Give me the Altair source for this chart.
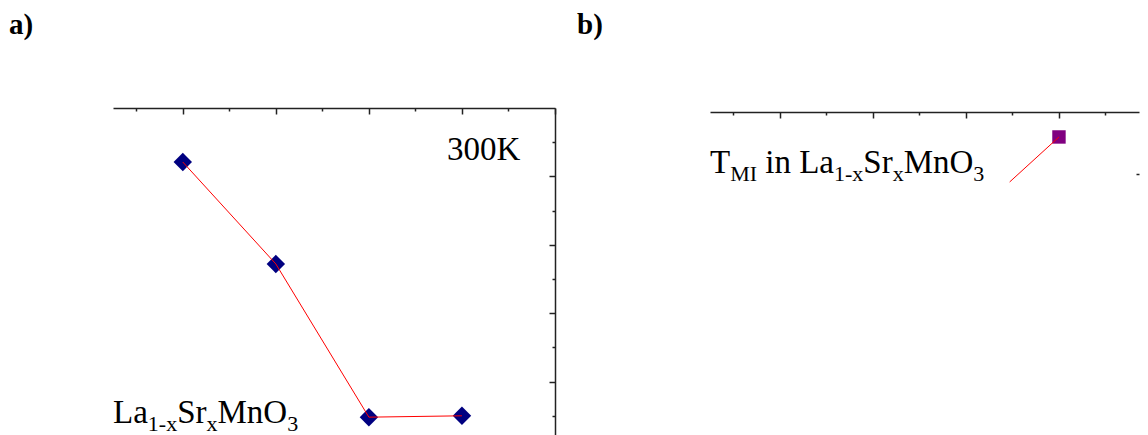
import altair as alt
import pandas as pd

# ---------------- data ----------------
# panel a : La1-xSrxMnO3 at 300K
a_x = [0.1, 0.2, 0.3, 0.4]
a_y = [4.21, 2.72, 0.48, 0.50]
# panel b : T_MI in La1-xSrxMnO3 (only the top-right corner is visible)
b_pt_x = [0.4]
b_pt_y = [4.54]
b_line_x = [0.347, 0.4]
b_line_y = [3.887, 4.54]

x_ticks = [0.05, 0.1, 0.15, 0.2, 0.25, 0.3, 0.35, 0.4, 0.45, 0.5]
y_ticks_a = [0.5, 1, 1.5, 2, 2.5, 3, 3.5, 4, 4.5]
y_ticks_b = [4]

x_domain_a = [0.025, 0.5]
x_domain_b = [0.025, 0.4860]
y_domain_a = [0, 5]
y_domain_b = [0, 4.96]

# ---------------- styling ----------------
W, H = 442, 342
WB = 429
FONT = "Liberation Serif"
AX = "#222222"
MAIN, SUB, DROP = 33, 22, 8
EM = {"L": 611, "a": 444, "S": 556, "r": 333, "M": 889, "n": 500, "O": 722,
      "T": 611, "I": 333, "i": 278, " ": 250, "1": 500, "-": 333, "x": 500,
      "3": 500, "K": 722, "0": 500}

dummy = pd.DataFrame({"k": [0]})


def text_width(s, fs):
    return sum(EM[c] for c in s) / 1000 * fs


def rich_text(segments, x0, y0):
    layers = []
    x = x0
    for s, is_sub in segments:
        fs = SUB if is_sub else MAIN
        if s.strip():
            layers.append(
                alt.Chart(dummy).mark_text(
                    text=s, font=FONT, fontSize=fs, align="left",
                    baseline="alphabetic", color="black"
                ).encode(x=alt.value(x), y=alt.value(y0 + (DROP if is_sub else 0)))
            )
        x += text_width(s, fs)
    return layers


def label(t, x, y):
    return alt.Chart(dummy).mark_text(
        text=t, font="Liberation Serif, Times New Roman, serif", fontSize=29,
        fontWeight="bold", align="left", baseline="alphabetic", color="black"
    ).encode(x=alt.value(x), y=alt.value(y))


def x_axis(offset):
    return alt.Axis(
        orient="bottom", offset=offset, values=x_ticks, labels=False, title=None,
        grid=False, domainColor=AX, domainWidth=1.5, tickColor=AX, tickWidth=1.5,
        tickSize={"condition": {"test": "abs(datum.value*10 - round(datum.value*10)) < 0.001",
                                "value": 6}, "value": 3},
    )


def y_axis(vals, width, show_domain=True, size_major=6):
    return alt.Axis(
        orient="left", offset=-width, values=vals, labels=False, title=None,
        grid=False, domain=show_domain, domainColor=AX, domainWidth=1.5,
        tickColor=AX, tickWidth=1.5,
        tickSize={"condition": {"test": "abs(datum.value - round(datum.value)) < 0.001",
                                "value": size_major}, "value": 3},
    )


# ---------------- panel a ----------------
df_a = pd.DataFrame({"x": a_x, "y": a_y})
xa = alt.X("x:Q", scale=alt.Scale(domain=x_domain_a, nice=False, zero=False), axis=x_axis(-H))
ya = alt.Y("y:Q", scale=alt.Scale(domain=y_domain_a, nice=False, zero=False),
           axis=y_axis(y_ticks_a, W))

pts_a = alt.Chart(df_a).mark_point(shape="diamond", filled=True, size=340,
                                   color="#000080", opacity=1).encode(x=xa, y=ya)
line_a = alt.Chart(df_a).mark_line(color="#ff0000", strokeWidth=1).encode(x=xa, y=ya)

txt_300 = alt.Chart(dummy).mark_text(
    text="300K", font=FONT, fontSize=MAIN, align="left", baseline="alphabetic",
    color="black").encode(x=alt.value(334), y=alt.value(52))

seg_a = [("La", False), ("1-x", True), ("Sr", False), ("x", True), ("MnO", False), ("3", True)]
panel_a = alt.layer(
    pts_a, line_a, txt_300, *rich_text(seg_a, 0, 315), label("a)", -104, -74)
).properties(width=W, height=H)

# ---------------- panel b ----------------
df_bp = pd.DataFrame({"x": b_pt_x, "y": b_pt_y})
df_bl = pd.DataFrame({"x": b_line_x, "y": b_line_y})
xb = alt.X("x:Q", scale=alt.Scale(domain=x_domain_b, nice=False, zero=False),
           axis=x_axis(-H + 4))
yb = alt.Y("y:Q", scale=alt.Scale(domain=y_domain_b, nice=False, zero=False),
           axis=y_axis(y_ticks_b, WB, show_domain=False, size_major=3))

pts_b = alt.Chart(df_bp).mark_point(shape="square", filled=True, size=180,
                                    color="#800080", opacity=1).encode(x=xb, y=yb)
line_b = alt.Chart(df_bl).mark_line(color="#ff0000", strokeWidth=1).encode(x=xb, y=yb)

seg_b = [("T", False), ("MI", True), (" ", False), ("in La", False), ("1-x", True),
         ("Sr", False), ("x", True), ("MnO", False), ("3", True)]
panel_b = alt.layer(
    pts_b, line_b, *rich_text(seg_b, 0, 65), label("b)", -133, -74)
).properties(width=WB, height=H)

chart = alt.hconcat(panel_a, panel_b, spacing=155, bounds="flush").properties(
    padding={"left": 1, "top": 3, "right": 0, "bottom": 0}, background="white"
).configure_view(stroke=None)

chart.save("out.html", embed_options={"renderer": "svg", "actions": False})
